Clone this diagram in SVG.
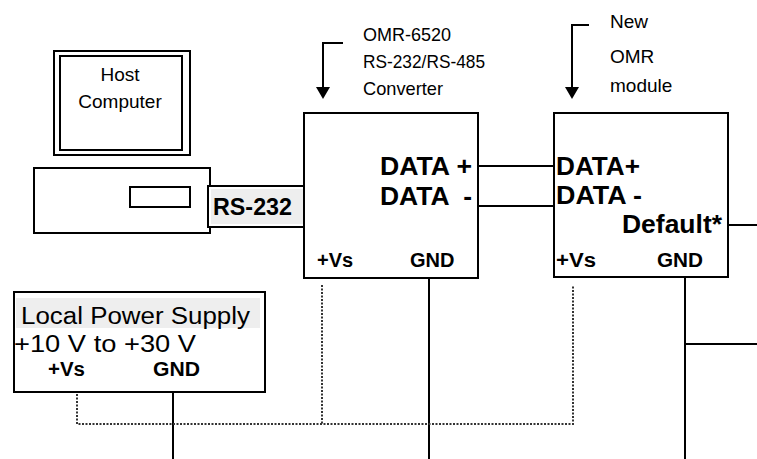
<svg xmlns="http://www.w3.org/2000/svg" width="757" height="459" viewBox="0 0 757 459">
<style>
.box{fill:#fff;stroke:#000;stroke-width:2}
.ln{stroke:#000;stroke-width:2;fill:none}
.dot{stroke:#333;stroke-width:2;fill:none;stroke-dasharray:2 1.5}
.t{font-family:"Liberation Sans",Arial,sans-serif;fill:#000}
.b{font-weight:bold}
</style>
<rect width="757" height="459" fill="#fff"/>
<g id="host">
<rect class="box" x="54" y="51" width="136" height="104"/>
<rect class="box" x="60" y="56" width="122" height="94"/>
<text class="t" x="120" y="81" font-size="19" text-anchor="middle">Host</text>
<text class="t" x="120" y="108" font-size="19" text-anchor="middle">Computer</text>
<rect class="box" x="34" y="168" width="176" height="65"/>
<rect class="box" x="130" y="187" width="60" height="20"/>
</g>
<g id="rs232">
<rect class="box" x="208" y="186" width="98" height="41"/>
<rect x="211" y="189" width="92" height="35" fill="#eeeeee"/>
<text class="t b" x="213" y="215" font-size="23" textLength="79" lengthAdjust="spacingAndGlyphs">RS-232</text>
</g>
<g id="converter">
<rect class="box" x="304" y="113" width="174" height="165"/>
<text class="t" x="363" y="41" font-size="19" textLength="88" lengthAdjust="spacingAndGlyphs">OMR-6520</text>
<text class="t" x="363" y="68" font-size="19" textLength="122" lengthAdjust="spacingAndGlyphs">RS-232/RS-485</text>
<text class="t" x="363" y="95" font-size="19" textLength="80" lengthAdjust="spacingAndGlyphs">Converter</text>
<text class="t b" x="380" y="175" font-size="25" textLength="92" lengthAdjust="spacingAndGlyphs">DATA +</text>
<text class="t b" x="380" y="205" font-size="25" textLength="92" lengthAdjust="spacingAndGlyphs" xml:space="preserve">DATA  -</text>
<text class="t b" x="317" y="267" font-size="20">+Vs</text>
<text class="t b" x="410" y="267" font-size="20">GND</text>
</g>
<g id="omr-module">
<rect class="box" x="554" y="113" width="174" height="164"/>
<text class="t" x="610" y="28" font-size="19">New</text>
<text class="t" x="610" y="63" font-size="19">OMR</text>
<text class="t" x="610" y="92" font-size="19">module</text>
<text class="t b" x="556" y="175" font-size="25" textLength="84" lengthAdjust="spacingAndGlyphs">DATA+</text>
<text class="t b" x="556" y="204" font-size="25" textLength="86" lengthAdjust="spacingAndGlyphs">DATA -</text>
<text class="t b" x="622" y="233" font-size="25" textLength="100" lengthAdjust="spacingAndGlyphs">Default*</text>
<text class="t b" x="556" y="267" font-size="20" textLength="40" lengthAdjust="spacingAndGlyphs">+Vs</text>
<text class="t b" x="657" y="267" font-size="20" textLength="46" lengthAdjust="spacingAndGlyphs">GND</text>
</g>
<g id="power-supply">
<rect class="box" x="14" y="292" width="251" height="100"/>
<rect x="16" y="298" width="244" height="30" fill="#eeeeee"/>
<text class="t" x="21" y="324" font-size="23" textLength="229" lengthAdjust="spacingAndGlyphs">Local Power Supply</text>
<text class="t" x="14" y="352" font-size="23" textLength="182" lengthAdjust="spacingAndGlyphs">+10 V to +30 V</text>
<text class="t b" x="48" y="376" font-size="20" textLength="37" lengthAdjust="spacingAndGlyphs">+Vs</text>
<text class="t b" x="153" y="376" font-size="20" textLength="47" lengthAdjust="spacingAndGlyphs">GND</text>
</g>
<g id="connectors">
<path class="ln" d="M343 43H323V88"/>
<polygon points="316,87 330,87 323,99"/>
<path class="ln" d="M589 25H572V88"/>
<polygon points="565,87 579,87 572,99"/>
<path class="ln" d="M478 166H554M478 206H554"/>
<path class="ln" d="M728 225H757"/>
<path class="ln" d="M429 278V459M685 277V459M685 344H757M173 392V459"/>
<path class="dot" d="M77 394V424H573V285M322 285V424"/>
</g>
</svg>
